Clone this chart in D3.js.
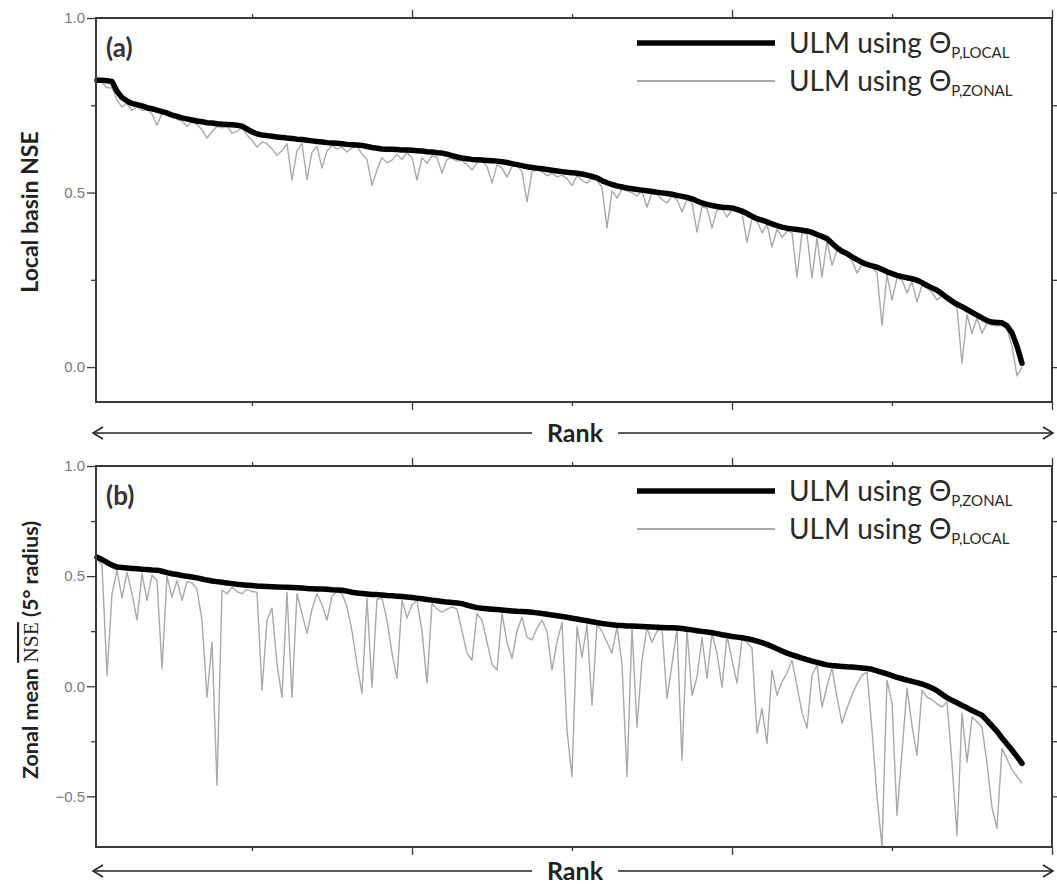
<!DOCTYPE html>
<html>
<head>
<meta charset="utf-8">
<script src="https://cdn.jsdelivr.net/npm/d3@7"></script>
<style>
  body { margin: 0; background: #fff; }
  text { font-family: Lato, "Open Sans", sans-serif; }
  .ytick text { font-family: "Liberation Sans", Arial, sans-serif; font-size: 15px; fill: #7a7a7a; }
</style>
</head>
<body>
<svg id="chart" width="1057" height="884"></svg>
<script>
// Panel (a): local basin NSE, basins ranked by the local-parameter run
const localA_local = [
0.822,0.822,0.820,0.818,0.790,0.772,0.762,0.755,0.752,0.748,
0.743,0.740,0.736,0.732,0.728,0.722,0.718,0.714,0.711,0.708,
0.705,0.703,0.700,0.699,0.697,0.696,0.695,0.694,0.693,0.690,
0.682,0.674,0.668,0.665,0.663,0.661,0.659,0.658,0.656,0.655,
0.653,0.652,0.650,0.648,0.646,0.645,0.643,0.642,0.641,0.640,
0.638,0.637,0.636,0.635,0.632,0.629,0.627,0.625,0.624,0.624,
0.623,0.622,0.622,0.621,0.620,0.619,0.617,0.616,0.614,0.613,
0.610,0.606,0.602,0.599,0.597,0.595,0.594,0.593,0.592,0.591,
0.590,0.588,0.586,0.583,0.580,0.577,0.574,0.572,0.570,0.568,
0.566,0.564,0.562,0.560,0.558,0.557,0.555,0.553,0.550,0.546,
0.542,0.534,0.528,0.523,0.519,0.516,0.513,0.511,0.509,0.507,
0.505,0.503,0.501,0.499,0.497,0.495,0.492,0.489,0.486,0.482,
0.476,0.470,0.466,0.463,0.460,0.458,0.457,0.456,0.452,0.447,
0.440,0.432,0.425,0.421,0.416,0.410,0.405,0.401,0.398,0.396,
0.394,0.392,0.390,0.386,0.380,0.374,0.368,0.355,0.342,0.332,
0.325,0.316,0.308,0.300,0.294,0.290,0.286,0.280,0.273,0.268,
0.263,0.259,0.256,0.253,0.249,0.242,0.234,0.227,0.220,0.210,
0.199,0.189,0.180,0.173,0.165,0.157,0.149,0.141,0.133,0.129,
0.128,0.127,0.118,0.098,0.060,0.011
];
const localA_zonal = [
0.820,0.815,0.800,0.800,0.765,0.745,0.755,0.735,0.745,0.735,
0.738,0.725,0.693,0.728,0.720,0.718,0.710,0.705,0.690,0.702,
0.695,0.680,0.656,0.675,0.690,0.685,0.690,0.670,0.675,0.685,
0.665,0.650,0.630,0.645,0.640,0.625,0.607,0.620,0.640,0.536,
0.620,0.640,0.536,0.615,0.632,0.570,0.620,0.635,0.625,0.630,
0.616,0.628,0.632,0.610,0.595,0.520,0.565,0.600,0.585,0.593,
0.610,0.595,0.615,0.600,0.536,0.600,0.584,0.605,0.600,0.556,
0.595,0.598,0.590,0.592,0.580,0.565,0.585,0.590,0.575,0.527,
0.580,0.570,0.544,0.575,0.578,0.560,0.473,0.560,0.565,0.560,
0.548,0.555,0.545,0.550,0.540,0.520,0.548,0.535,0.527,0.540,
0.535,0.515,0.398,0.505,0.484,0.510,0.505,0.500,0.490,0.505,
0.458,0.500,0.495,0.480,0.470,0.490,0.480,0.444,0.480,0.470,
0.387,0.460,0.455,0.398,0.450,0.455,0.430,0.450,0.445,0.440,
0.358,0.425,0.420,0.384,0.410,0.344,0.395,0.372,0.390,0.385,
0.258,0.385,0.380,0.255,0.370,0.258,0.360,0.292,0.335,0.325,
0.320,0.305,0.269,0.295,0.290,0.285,0.270,0.120,0.265,0.192,
0.255,0.250,0.212,0.245,0.186,0.235,0.225,0.215,0.192,0.205,
0.190,0.180,0.170,0.011,0.150,0.097,0.140,0.097,0.125,0.120,
0.118,0.120,0.110,0.060,-0.025,0.000
];

// Panel (b): zonal mean NSE (5° radius), basins ranked by the zonal-parameter run
const zonalB_zonal = [
0.586,0.575,0.562,0.550,0.541,0.539,0.537,0.535,0.533,0.531,
0.530,0.528,0.527,0.522,0.516,0.511,0.507,0.503,0.499,0.496,
0.492,0.487,0.482,0.478,0.475,0.472,0.469,0.466,0.463,0.461,
0.459,0.457,0.455,0.454,0.453,0.452,0.451,0.450,0.449,0.448,
0.447,0.446,0.444,0.443,0.442,0.441,0.440,0.438,0.437,0.436,
0.432,0.427,0.423,0.421,0.419,0.417,0.416,0.414,0.412,0.411,
0.409,0.407,0.405,0.403,0.400,0.397,0.394,0.391,0.388,0.385,
0.382,0.380,0.378,0.375,0.368,0.362,0.357,0.354,0.352,0.350,
0.348,0.346,0.344,0.342,0.340,0.339,0.338,0.336,0.333,0.330,
0.327,0.323,0.320,0.317,0.313,0.309,0.305,0.301,0.297,0.293,
0.289,0.285,0.282,0.279,0.277,0.276,0.274,0.273,0.272,0.271,
0.270,0.269,0.268,0.267,0.266,0.265,0.264,0.262,0.259,0.256,
0.252,0.249,0.246,0.243,0.239,0.234,0.230,0.226,0.223,0.220,
0.216,0.211,0.205,0.198,0.190,0.180,0.170,0.160,0.150,0.142,
0.135,0.128,0.121,0.114,0.108,0.102,0.097,0.094,0.092,0.090,
0.088,0.087,0.085,0.083,0.081,0.077,0.070,0.063,0.056,0.048,
0.040,0.034,0.028,0.022,0.016,0.010,0.002,-0.008,-0.020,-0.036,
-0.052,-0.064,-0.075,-0.087,-0.098,-0.110,-0.121,-0.132,-0.155,-0.180,
-0.205,-0.235,-0.262,-0.290,-0.320,-0.350
];
const zonalB_local = [
0.580,0.550,0.050,0.420,0.527,0.400,0.518,0.420,0.300,0.512,
0.390,0.505,0.480,0.080,0.500,0.405,0.480,0.390,0.475,0.470,
0.440,0.300,-0.050,0.200,-0.450,0.436,0.420,0.450,0.430,0.420,
0.440,0.430,0.427,-0.018,0.300,0.355,0.100,-0.050,0.427,-0.050,
0.420,0.330,0.240,0.350,0.420,0.370,0.300,0.410,0.430,0.420,
0.360,0.250,0.100,-0.032,0.400,-0.005,0.395,0.400,0.300,0.150,
0.036,0.390,0.310,0.370,0.390,0.250,0.014,0.377,0.350,0.336,
0.350,0.360,0.350,0.250,0.150,0.118,0.330,0.300,0.200,0.100,
0.073,0.330,0.200,0.127,0.250,0.314,0.223,0.210,0.264,0.300,
0.250,0.073,0.200,0.290,-0.200,-0.410,0.270,0.132,0.280,-0.086,
0.280,0.250,0.200,0.150,0.270,0.100,-0.410,0.265,-0.186,0.120,
0.265,0.200,0.250,0.260,-0.055,0.100,0.260,-0.336,0.255,-0.041,
0.041,0.220,0.036,0.240,0.150,-0.005,0.230,0.120,0.014,0.215,
0.200,0.173,-0.214,-0.100,-0.260,0.073,-0.041,0.020,0.060,0.118,
0.000,-0.120,-0.190,0.050,0.095,-0.095,0.000,0.082,-0.050,-0.168,
-0.100,-0.040,0.010,0.050,0.064,-0.200,-0.500,-0.730,0.027,-0.077,
-0.586,-0.300,-0.009,-0.180,-0.314,-0.018,-0.050,-0.060,-0.080,-0.095,
-0.070,-0.350,-0.677,-0.123,-0.345,-0.141,-0.160,-0.186,-0.350,-0.550,
-0.645,-0.282,-0.330,-0.380,-0.410,-0.441
];

const ranks = d3.range(1, localA_local.length + 1);

const xMajorTicks = [64, 128, 192];
const xMinorTicks = [32, 96, 160];

const panels = [
  {
    tag: "(a)",
    yDomain: [-0.1, 1.0],
    yRange: [402, 18],
    yLabelTicks: [0, 0.5, 1.0],
    yMinorTicks: [0.25, 0.75],
    thick: localA_local,
    thin: localA_zonal,
    thickName: "LOCAL",
    thinName: "ZONAL",
    arrowY: 433
  },
  {
    tag: "(b)",
    yDomain: [-0.73, 1.0],
    yRange: [847, 466],
    yLabelTicks: [-0.5, 0, 0.5, 1.0],
    yMinorTicks: [-0.25, 0.25, 0.75],
    thick: zonalB_zonal,
    thin: zonalB_local,
    thickName: "ZONAL",
    thinName: "LOCAL",
    arrowY: 871
  }
];

const svg = d3.select("#chart");
const x = d3.scaleLinear().domain([0.8, 192]).range([96, 1052]);
const frameColor = "#3a3a3a";
const fmt = d => (d < 0 ? "\u22120.5" : d3.format(".1f")(d));

panels.forEach(p => {
  const y = d3.scaleLinear().domain(p.yDomain).range(p.yRange);
  const g = svg.append("g");
  const [x0, x1] = x.range();
  const yTop = p.yRange[1], yBot = p.yRange[0];

  // ranked NSE lines
  const line = d3.line().x((d, i) => x(ranks[i])).y(d => y(d));
  g.append("path").datum(p.thin)
    .attr("d", line).attr("fill", "none")
    .attr("stroke", "#a9a9a9").attr("stroke-width", 1.4)
    .attr("stroke-linejoin", "round");
  g.append("path").datum(p.thick)
    .attr("d", line).attr("fill", "none")
    .attr("stroke", "#000").attr("stroke-width", 5.5)
    .attr("stroke-linejoin", "round").attr("stroke-linecap", "round");

  // left axis: labelled major ticks plus unlabelled minor ticks
  const left = g.append("g").attr("class", "ytick").attr("transform", `translate(${x0},0)`)
    .call(d3.axisLeft(y).tickValues(p.yLabelTicks).tickSize(9).tickPadding(2).tickFormat(fmt));
  left.attr("font-size", null).attr("font-family", null);
  left.select(".domain").remove();
  left.selectAll("line").attr("stroke", frameColor).attr("stroke-width", 1.3);
  const leftMinor = g.append("g").attr("transform", `translate(${x0},0)`)
    .call(d3.axisLeft(y).tickValues(p.yMinorTicks).tickSize(5).tickFormat(""));
  leftMinor.select(".domain").remove();
  leftMinor.selectAll("line").attr("stroke", frameColor).attr("stroke-width", 1.3);

  // right axis: inward ticks
  const right = g.append("g").attr("transform", `translate(${x1},0)`)
    .call(d3.axisLeft(y).tickValues(p.yLabelTicks.concat(p.yMinorTicks).filter(v => v < 1)).tickSize(-5).tickFormat(""));
  right.select(".domain").remove();
  right.selectAll("line").attr("stroke", frameColor).attr("stroke-width", 1.3);

  // top and bottom rank axes, outward ticks, no labels
  [[d3.axisTop, yTop], [d3.axisBottom, yBot]].forEach(([ax, yy]) => {
    const maj = g.append("g").attr("transform", `translate(0,${yy})`)
      .call(ax(x).tickValues(xMajorTicks).tickSize(8).tickFormat(""));
    maj.select(".domain").remove();
    maj.selectAll("line").attr("stroke", frameColor).attr("stroke-width", 1.3);
    const mnr = g.append("g").attr("transform", `translate(0,${yy})`)
      .call(ax(x).tickValues(xMinorTicks).tickSize(4).tickFormat(""));
    mnr.select(".domain").remove();
    mnr.selectAll("line").attr("stroke", frameColor).attr("stroke-width", 1.3);
  });

  // frame
  g.append("rect")
    .attr("x", x0).attr("y", yTop)
    .attr("width", x1 - x0).attr("height", yBot - yTop)
    .attr("fill", "none").attr("stroke", frameColor).attr("stroke-width", 2);

  // panel tag
  g.append("text").attr("x", 106).attr("y", yTop + 39)
    .attr("font-size", 26).attr("font-weight", 700).attr("fill", "#333")
    .text(p.tag);

  // legend
  const legend = [
    { name: p.thickName, color: "#000", width: 5.5, dy: 25 },
    { name: p.thinName, color: "#a9a9a9", width: 2, dy: 63 }
  ];
  legend.forEach(l => {
    const ly = yTop + l.dy;
    g.append("line").attr("x1", 637).attr("x2", 775).attr("y1", ly).attr("y2", ly)
      .attr("stroke", l.color).attr("stroke-width", l.width);
    const t = g.append("text").attr("x", 789).attr("y", ly + 10)
      .attr("font-size", 28).attr("fill", "#2a2a2a");
    t.append("tspan").text("ULM using \u0398");
    t.append("tspan").attr("dy", 5).attr("font-size", 15).text("P," + l.name);
  });

  // rank arrow under each panel
  const ay = p.arrowY;
  const ag = svg.append("g");
  ag.append("line").attr("x1", 93).attr("x2", 532).attr("y1", ay).attr("y2", ay)
    .attr("stroke", "#222").attr("stroke-width", 1.5);
  ag.append("line").attr("x1", 618).attr("x2", 1053).attr("y1", ay).attr("y2", ay)
    .attr("stroke", "#222").attr("stroke-width", 1.5);
  ag.append("path").attr("d", `M103,${ay - 6} L93,${ay} L103,${ay + 6}`)
    .attr("fill", "none").attr("stroke", "#222").attr("stroke-width", 1.5);
  ag.append("path").attr("d", `M1043,${ay - 6} L1053,${ay} L1043,${ay + 6}`)
    .attr("fill", "none").attr("stroke", "#222").attr("stroke-width", 1.5);
  ag.append("text").attr("x", 575).attr("y", ay + 9)
    .attr("text-anchor", "middle").attr("font-size", 25).attr("font-weight", 700)
    .attr("fill", "#222").text("Rank");
});

// y axis titles
svg.append("text")
  .attr("transform", "translate(38,212) rotate(-90)")
  .attr("text-anchor", "middle").attr("font-size", 23).attr("font-weight", 700)
  .attr("fill", "#222").text("Local basin NSE");

const t2 = svg.append("text")
  .attr("transform", "translate(38,650) rotate(-90)")
  .attr("text-anchor", "middle").attr("font-size", 21.5).attr("font-weight", 700)
  .attr("fill", "#222");
t2.append("tspan").text("Zonal mean ");
t2.append("tspan").style("text-decoration", "overline").attr("font-weight", 400)
  .style("font-family", "'Liberation Serif', serif").text("NSE");
t2.append("tspan").text(" (5\u00b0 radius)");
</script>
</body>
</html>
